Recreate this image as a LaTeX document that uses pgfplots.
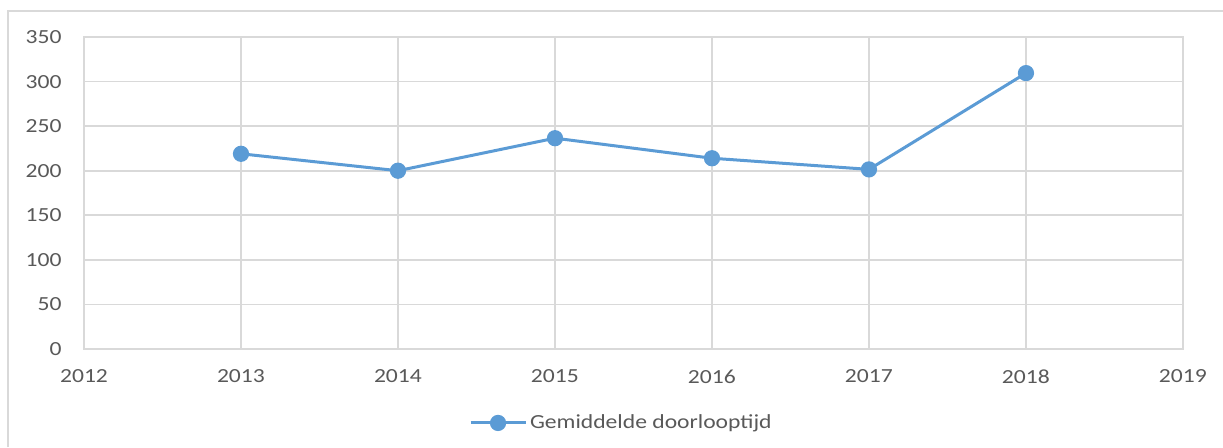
\documentclass[border=0pt]{standalone}
\usepackage{pgfplots}
\pgfplotsset{compat=1.18}
\usepackage{fontspec}
\setmainfont[FakeStretch=1.18]{Carlito}
\definecolor{serieblue}{HTML}{5B9BD5}
\definecolor{gridgray}{HTML}{D9D9D9}
\definecolor{textgray}{HTML}{595959}
\begin{document}
\begin{tikzpicture}[x=1pt,y=1pt]
\path[use as bounding box] (0,0) rectangle (611.5,223.5);
\draw[gridgray, line width=0.8pt] (4,0) -- (4,218) -- (611.5,218);
\begin{axis}[
  at={(42pt,49pt)}, anchor=south west,
  scale only axis, width=549.5pt, height=156pt,
  xmin=2012, xmax=2019, ymin=0, ymax=350,
  xtick={2012,...,2019}, ytick={0,50,...,350},
  /pgf/number format/assume math mode=true,
  xticklabel={\pgfmathprintnumber[1000 sep={}]{\tick}},
  major tick length=0pt,
  grid=major,
  major grid style={gridgray, line width=0.8pt},
  axis line style={gridgray, line width=0.8pt},
  tick label style={font=\fontsize{10pt}{12pt}\selectfont, text=textgray},
  y tick label style={anchor=east, inner sep=0pt, xshift=-11pt},
  x tick label style={anchor=north, inner sep=0pt, yshift=-10.3pt},
  legend style={at={(0.350,-0.237)}, anchor=west, draw=none, fill=none,
    inner sep=0pt, font=\fontsize{10pt}{12pt}\selectfont, text=textgray,
    nodes={inner sep=1.5pt}},
  legend image code/.code={%
    \draw[#1, mark repeat=2, mark phase=2] plot coordinates {(0pt,0pt) (13.75pt,0pt) (27.5pt,0pt)};},
]
\addplot[serieblue, line width=1.5pt, mark=*, mark size=3.3pt, mark options={fill=serieblue, draw=none}]
  coordinates {(2013,219) (2014,200) (2015,236.5) (2016,214) (2017,201.5) (2018,309.5)};
\addlegendentry{Gemiddelde doorlooptijd}
\end{axis}
\end{tikzpicture}
\end{document}
